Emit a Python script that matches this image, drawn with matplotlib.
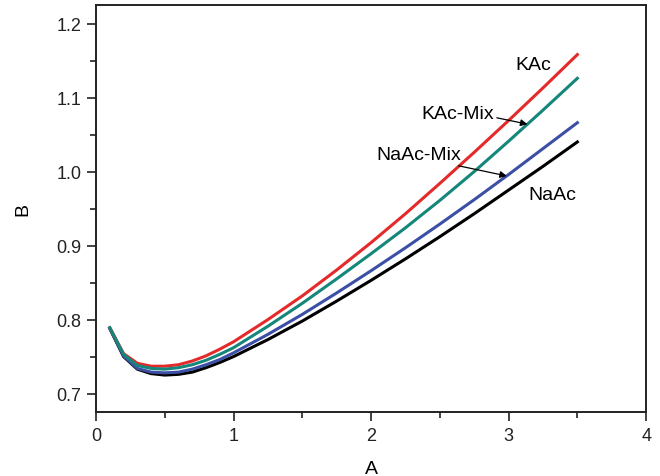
import numpy as np
import matplotlib.pyplot as plt
from matplotlib.ticker import MultipleLocator

plt.rcParams['font.family'] = ['Liberation Sans', 'DejaVu Sans']

x = [0.1, 0.2, 0.3, 0.4, 0.5, 0.6, 0.7, 0.8, 0.9, 1.0,
     1.25, 1.5, 1.75, 2.0, 2.25, 2.5, 2.75, 3.0, 3.25, 3.5]

kac = [0.789, 0.754, 0.741, 0.737, 0.737, 0.739, 0.744, 0.751, 0.760, 0.770,
       0.800, 0.832, 0.867, 0.904, 0.943, 0.984, 1.026, 1.069, 1.113, 1.158]
kac_mix = [0.789, 0.753, 0.738, 0.734, 0.733, 0.735, 0.739, 0.745, 0.753, 0.762,
           0.791, 0.822, 0.855, 0.889, 0.924, 0.961, 1.000, 1.041, 1.083, 1.126]
naac_mix = [0.788, 0.751, 0.734, 0.729, 0.728, 0.729, 0.733, 0.739, 0.746, 0.755,
            0.780, 0.807, 0.836, 0.866, 0.897, 0.929, 0.962, 0.996, 1.031, 1.066]
naac = [0.788, 0.750, 0.733, 0.727, 0.725, 0.726, 0.729, 0.735, 0.742, 0.750,
        0.773, 0.798, 0.825, 0.853, 0.882, 0.912, 0.943, 0.975, 1.007, 1.040]

fig = plt.figure(figsize=(6.6, 4.77), dpi=100)
ax = fig.add_axes([0.1455, 0.134, 0.8335, 0.8534])

lw = 2.2
ax.plot(x, naac, color='black', lw=lw)
ax.plot(x, naac_mix, color='#3c4fa6', lw=lw)
ax.plot(x, kac, color='#e42a2a', lw=lw)
ax.plot(x, kac_mix, color='#14867a', lw=lw)

ax.set_xlim(0, 4)
ax.set_ylim(0.675, 1.225)
ax.xaxis.set_major_locator(MultipleLocator(1))
ax.xaxis.set_minor_locator(MultipleLocator(0.5))
ax.yaxis.set_major_locator(MultipleLocator(0.1))
ax.yaxis.set_minor_locator(MultipleLocator(0.05))
ax.set_yticks([0.7, 0.8, 0.9, 1.0, 1.1, 1.2])
ax.set_yticklabels(['0.7', '0.8', '0.9', '1.0', '1.1', '1.2'])

ax.tick_params(which='both', direction='out', top=False, right=False,
               width=1.2, labelsize=13, colors='#222222')
ax.tick_params(which='major', length=6.5, pad=4)
ax.tick_params(which='minor', length=4)
for s in ax.spines.values():
    s.set_linewidth(1.4)
    s.set_color('#222222')

ax.set_xlabel('A', fontsize=14, labelpad=12)
ax.set_ylabel('B', fontsize=14, labelpad=18)

fs = 14
ax.text(3.177, 1.145, 'KAc', fontsize=fs, ha='center', va='center')
ax.text(3.315, 0.969, 'NaAc', fontsize=fs, ha='center', va='center')
ax.annotate('KAc-Mix', xy=(3.137, 1.064), xytext=(2.63, 1.078),
            fontsize=fs, ha='center', va='center',
            arrowprops=dict(arrowstyle='-|>', color='black', lw=0.9,
                            mutation_scale=10, shrinkA=0, shrinkB=0,
                            relpos=(1.0, 0.3)))
ax.annotate('NaAc-Mix', xy=(2.987, 0.994), xytext=(2.346, 1.023),
            fontsize=fs, ha='center', va='center',
            arrowprops=dict(arrowstyle='-|>', color='black', lw=0.9,
                            mutation_scale=10, shrinkA=0, shrinkB=0,
                            relpos=(0.72, 0.1)))

fig.savefig('out.png', dpi=100)
